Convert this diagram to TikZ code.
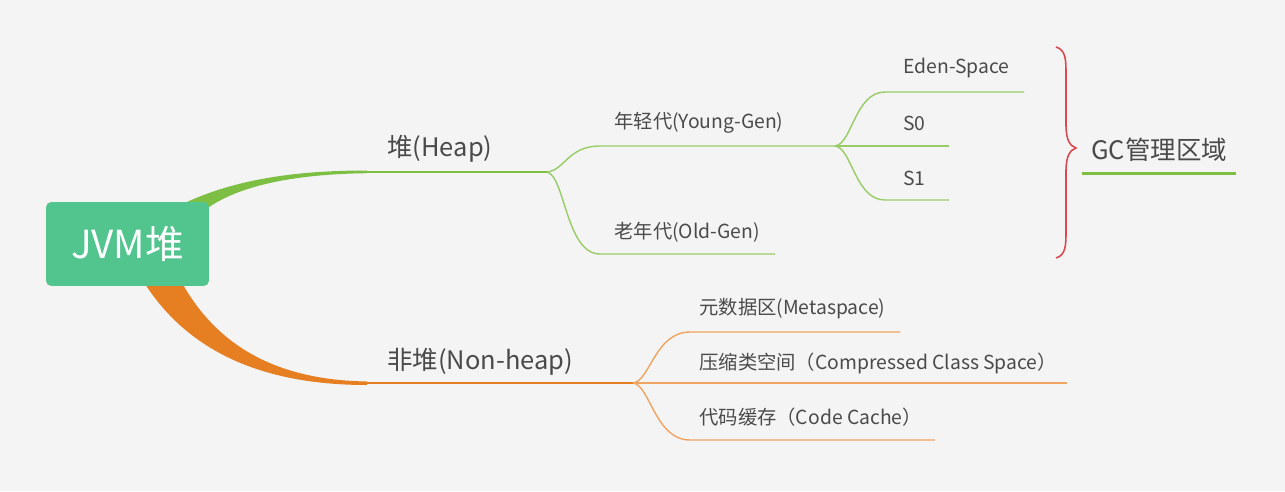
\documentclass[tikz,border=0pt]{standalone}
\usepackage{fontspec}
\newfontfamily\cjk{Noto Sans CJK SC}
\usetikzlibrary{positioning,calc}
\definecolor{cRoot}{HTML}{52C48E}
\definecolor{cHeap}{HTML}{7CBF43}
\definecolor{cHeapLt}{HTML}{98CC66}
\definecolor{cNon}{HTML}{E67E22}
\definecolor{cNonLt}{HTML}{F0A462}
\definecolor{cBrace}{HTML}{D84A50}
\definecolor{cTxt}{HTML}{4A4A4A}
\definecolor{cBg}{HTML}{F4F4F4}
\pgfdeclarelayer{front}
\pgfsetlayers{main,front}
\tikzset{
  rootbox/.style={fill=cRoot, rounded corners=3pt, text=white, minimum width=3.26cm,
    minimum height=1.68cm, font=\cjk\fontsize{22}{24}\selectfont},
  lbl/.style={anchor=west, inner sep=0pt, text=cTxt, font=\cjk\fontsize{11}{13}\selectfont},
  biglbl/.style={lbl, font=\cjk\fontsize{14.5}{16}\selectfont},
  heapln/.style={draw=cHeap, line width=1.2pt},
  heapsub/.style={draw=cHeapLt, line width=0.8pt},
  nonln/.style={draw=cNon, line width=1.2pt},
  nonsub/.style={draw=cNonLt, line width=0.8pt},
  bracestyle/.style={draw=cBrace, line width=0.9pt},
}

\begin{document}
\begin{tikzpicture}[x=0.02cm, y=-0.02cm]
  % background
  \fill[cBg] (0,0) rectangle (1285,491);
  \useasboundingbox (0,0) rectangle (1285,491);
  % root
  \begin{pgfonlayer}{front}
    \node (root) [rootbox] at (127.5,244) {JVM堆};
  \end{pgfonlayer}
  % forks
  \coordinate (heapL) at (367,172);
  \coordinate (heapF) at (547,172);
  \coordinate (youngF) at (835,146);
  \coordinate (nonL) at (367,383);
  \coordinate (nonF) at (633,383);
  % labels
  \node (heap) [biglbl] at (387,149) {堆(Heap)};
  \node (nonheap) [biglbl] at (387,362) {非堆(Non-heap)};
  \node (young) [lbl] at (614,123) {年轻代(Young-Gen)};
  \node (old) [lbl] at (614,232) {老年代(Old-Gen)};
  \node (eden) [lbl] at (903,68) {Eden-Space};
  \node (szero) [lbl] at (903,123) {S0};
  \node (sone) [lbl] at (903,178) {S1};
  \node (meta) [lbl] at (699,309) {元数据区(Metaspace)};
  \node (ccs) [lbl] at (699,363) {压缩类空间（Compressed Class Space）};
  \node (cache) [lbl] at (699,417) {代码缓存（Code Cache）};
  \node (gc) [biglbl] at (1091,150) {GC管理区域};
  % main branches
  \fill[cHeap] ($(root.north)+(44,8)$) .. controls (230,178) and (300,170.5) .. ($(heapL)+(0,-1.5)$)
    -- ($(heapL)+(0,1.2)$) .. controls (300,174) and (240,184) .. ($(root.north east)+(-4,8)$) -- cycle;
  \fill[cNon] ($(root.south)+(14,-8)$) .. controls (185,350) and (260,385) .. ($(nonL)+(0,2)$)
    -- ($(nonL)+(0,-1.5)$) .. controls (275,380) and (215,345) .. ($(root.south)+(52,-8)$) -- cycle;
  \draw[heapln] (heapL) -- (heapF);
  \draw[nonln] (nonL) -- (nonF);
  % heap children
  \draw[heapsub] (heapF) .. controls (565,170) and (568,146) .. (600,146) -- (youngF);
  \draw[heapsub] (heapF) .. controls (565,176) and (566,254) .. (600,254) -- (775,254);
  \draw[heapsub] (youngF) .. controls (852,144) and (855,92) .. (885,92) -- (1024,92);
  \draw[heapsub] (youngF) -- (949,146);
  \draw[heapsub] (youngF) .. controls (852,148) and (855,200) .. (885,200) -- (949,200);
  % non-heap children
  \draw[nonsub] (nonF) .. controls (650,381) and (655,332) .. (690,332) -- (900,332);
  \draw[nonsub] (nonF) -- (1067,383);
  \draw[nonsub] (nonF) .. controls (650,385) and (655,440) .. (690,440) -- (935,440);
  % brace + GC
  \draw[bracestyle] (1056,47) .. controls (1066,50) and (1066,60) .. (1066,75) -- (1066,125)
    .. controls (1066,140) and (1070,146) .. (1076,148)
    .. controls (1070,150) and (1066,156) .. (1066,171) -- (1066,230)
    .. controls (1066,245) and (1066,255) .. (1056,258);
  \draw[cHeap, line width=1.7pt] (1082,173) -- (1236,173);
\end{tikzpicture}
\end{document}
